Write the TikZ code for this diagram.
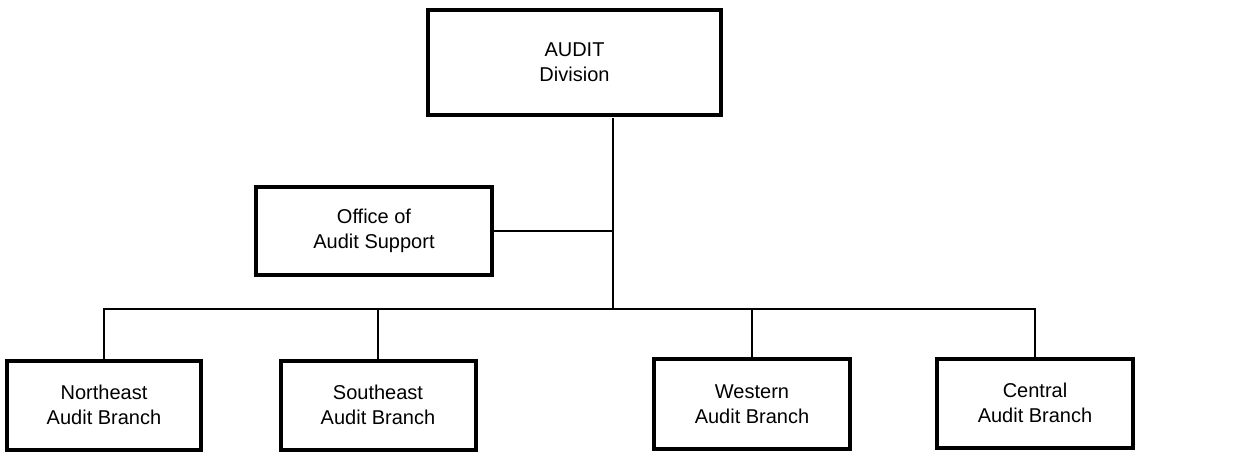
\documentclass[tikz,border=0pt]{standalone}
\usepackage{fontspec}
\setmainfont{Liberation Sans}
\begin{document}
\begin{tikzpicture}[x=1pt,y=-1pt,
  orgbox/.style={draw=black,line width=4pt,fill=white,align=center,inner sep=0pt,
    font=\fontsize{20}{25}\selectfont},
  link/.style={draw=black,line width=2.2pt}]
\useasboundingbox[fill=white] (0,0) rectangle (1240,453);
\node[orgbox,minimum width=293,minimum height=105] (audit) at (574.5,62.5) {AUDIT\\Division};
\node[orgbox,minimum width=236,minimum height=88] (office) at (374,231) {Office of\\Audit Support};
\node[orgbox,minimum width=194,minimum height=89] (ne) at (104,405) {Northeast\\Audit Branch};
\node[orgbox,minimum width=195,minimum height=89] (se) at (378,405) {Southeast\\Audit Branch};
\node[orgbox,minimum width=196,minimum height=90] (we) at (752,404) {Western\\Audit Branch};
\node[orgbox,minimum width=196,minimum height=89] (ce) at (1035,403) {Central\\Audit Branch};
\coordinate (spine) at (613,309);
\coordinate (top) at (613,118);
\coordinate (mid) at (613,231);
\begin{scope}[on background layer/.try]
\end{scope}
\draw[link] (top) -- (spine);
\draw[link] (office.east) -- (mid);
\draw[link] (ne.north) -- (ne.north |- spine) -- (ce.north |- spine) -- (ce.north);
\draw[link] (se.north) -- (se.north |- spine);
\draw[link] (we.north) -- (we.north |- spine);
\end{tikzpicture}
\end{document}
